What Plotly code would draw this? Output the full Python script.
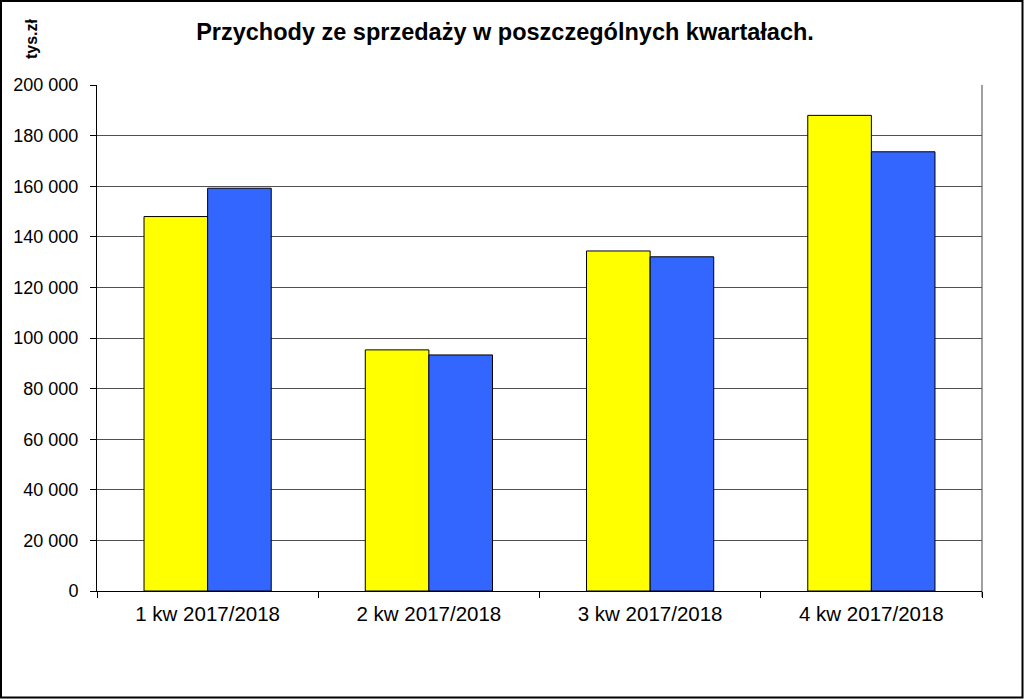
import plotly.graph_objects as go

categories = ["1 kw 2017/2018", "2 kw 2017/2018", "3 kw 2017/2018", "4 kw 2017/2018"]
series_a = [148000, 95300, 134400, 188000]
series_b = [159200, 93300, 132100, 173600]
y_tickvals = [0, 20000, 40000, 60000, 80000, 100000, 120000, 140000, 160000, 180000, 200000]
y_ticktext = ["0", "20 000", "40 000", "60 000", "80 000", "100 000", "120 000", "140 000",
              "160 000", "180 000", "200 000"]

W, H = 1024, 699
L, R, T, B = 97, 982, 85, 591

fig = go.Figure()
fig.add_trace(go.Bar(x=categories, y=series_a, marker=dict(color="#FFFF00", line=dict(color="#000000", width=1)),
                     showlegend=False))
fig.add_trace(go.Bar(x=categories, y=series_b, marker=dict(color="#3366FF", line=dict(color="#000000", width=1)),
                     showlegend=False))

def px_x(p):
    return (p - L) / (R - L)

def px_y(p):
    return (B - p) / (B - T)

shapes = [
    # outer border
    dict(type="rect", xref="paper", yref="paper", x0=px_x(1), x1=px_x(1022.5), y0=px_y(697.5), y1=px_y(1),
         line=dict(color="#000000", width=2), fillcolor="rgba(0,0,0,0)", layer="above"),
    # right border of plot area
    dict(type="line", xref="paper", yref="paper", x0=1, x1=1, y0=px_y(597), y1=1,
         line=dict(color="#808080", width=1.5), layer="below"),
]

fig.update_layout(
    width=W, height=H,
    margin=dict(l=L, r=W - R, t=T, b=H - B, pad=0),
    paper_bgcolor="white", plot_bgcolor="white",
    barmode="group", bargap=0.425, bargroupgap=0,
    font=dict(family="Liberation Sans, Arial, sans-serif", color="#000000"),
    title=dict(text="<b>Przychody ze sprzedaży w poszczególnych kwartałach.</b>",
               x=505 / W, xanchor="center", y=1 - 32 / H, yanchor="middle", yref="container",
               font=dict(size=23.5, color="#000000")),
    xaxis=dict(type="category", showline=True, linecolor="#000000", linewidth=1,
               ticks="outside", tickson="boundaries", ticklen=6, tickcolor="#000000",
               tickfont=dict(size=20.5), showgrid=False, ticklabelstandoff=4),
    yaxis=dict(range=[0, 200000], tickvals=y_tickvals, ticktext=y_ticktext,
               showline=True, linecolor="#000000", linewidth=1,
               ticks="outside", ticklen=6, tickcolor="#000000",
               showgrid=True, gridcolor="#505050", gridwidth=1.2,
               tickfont=dict(size=18), zeroline=False, ticklabelstandoff=8),
    shapes=shapes,
    annotations=[dict(text="<b>tys.zł</b>", xref="paper", yref="paper", x=px_x(31), y=px_y(39),
                      xanchor="center", yanchor="middle", textangle=-90, showarrow=False,
                      font=dict(size=16, color="#000000"))],
)

fig.write_html("out.html", config={"displayModeBar": False},
               post_script="document.body.style.margin='0';document.body.style.padding='0';")
